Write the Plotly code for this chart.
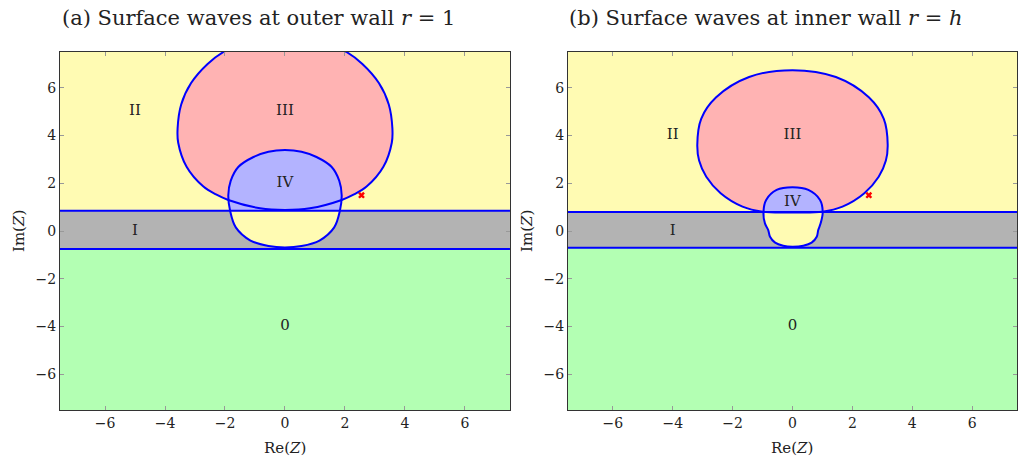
import plotly.graph_objects as go
from plotly.subplots import make_subplots

# ── axes ────────────────────────────────────────────────────────
AX = [-7.5, 7.5]
TICKS = [-6, -4, -2, 0, 2, 4, 6]

# ── panel (a): outer wall r = 1 ─────────────────────────────────
band_a = [-0.75, 0.85]
iii_a_x = [0, 0.83, 1.89, 2.3, 2.72, 3.28, 3.56, 3.58, 3.46, 3.13, 2.58, 2.05, 1.2, 0,
           -1.2, -2.05, -2.58, -3.13, -3.46, -3.58, -3.56, -3.28, -2.72, -2.3, -1.89, -0.83, 0]
iii_a_y = [0.88, 0.95, 1.30, 1.53, 1.86, 2.69, 3.7, 4.3, 5.3, 6.2, 7.0, 7.5, 7.97, 8.2,
           7.97, 7.5, 7.0, 6.2, 5.3, 4.3, 3.7, 2.69, 1.86, 1.53, 1.30, 0.95, 0.88]
iv_a_top_x = [-1.83, -1.89, -1.81, -1.55, -1.05, -0.55, 0, 0.55, 1.05, 1.55, 1.81, 1.89, 1.83]
iv_a_top_y = [0.85, 1.5, 2.1, 2.69, 3.1, 3.32, 3.39, 3.32, 3.1, 2.69, 2.1, 1.5, 0.85]
iv_a_bot_x = [1.83, 1.64, 1.15, 0.55, 0, -0.55, -1.15, -1.64, -1.83]
iv_a_bot_y = [0.85, 0.15, -0.40, -0.63, -0.69, -0.63, -0.40, 0.15, 0.85]
lab_a = ["II", "III", "IV", "I", "0"]
lab_a_x = [-5, 0, 0, -5, 0]
lab_a_y = [5, 5, 2, 0, -4]
cross_a_x, cross_a_y = [2.55], [1.5]

# ── panel (b): inner wall r = h ─────────────────────────────────
band_b = [-0.70, 0.80]
iii_b_x = [0, 1.0, 1.67, 2.4, 2.88, 3.12, 3.18, 3.05, 2.55, 1.45, 0,
           -1.45, -2.55, -3.05, -3.18, -3.12, -2.88, -2.4, -1.67, -1.0, 0]
iii_b_y = [0.78, 0.81, 1.02, 1.58, 2.27, 2.95, 3.62, 4.7, 5.6, 6.45, 6.74,
           6.45, 5.6, 4.7, 3.62, 2.95, 2.27, 1.58, 1.02, 0.81, 0.78]
iv_b_top_x = [-0.97, -0.88, -0.53, 0.0, 0.53, 0.92, 1.01]
iv_b_top_y = [0.80, 1.30, 1.72, 1.83, 1.72, 1.30, 0.80]
iv_b_bot_x = [1.01, 0.94, 0.86, 0.81, 0.64, 0.36, 0.0, -0.31, -0.58, -0.75, -0.81, -0.92, -0.97]
iv_b_bot_y = [0.80, 0.32, 0.04, -0.24, -0.49, -0.62, -0.66, -0.62, -0.49, -0.24, 0.04, 0.32, 0.80]
lab_b = ["II", "III", "IV", "I", "0"]
lab_b_x = [-4, 0, 0, -4, 0]
lab_b_y = [4, 4, 1.2, 0, -4]
cross_b_x, cross_b_y = [2.55], [1.5]

# ── colours (pgfplots xx!30 style) ──────────────────────────────
YEL, RED, BLU, GRY, GRN = "#FFFBB3", "#FFB3B3", "#B3B3FF", "#B3B3B3", "#B3FFB3"
LINE = "#0000FF"
FONT = "DejaVu Serif"
TXT = "#222"

fig = make_subplots(rows=1, cols=2)
sp = dict(shape="spline", smoothing=1.0)


def fill(x, y, color, col):
    fig.add_trace(go.Scatter(x=x, y=y, mode="lines", fill="toself", fillcolor=color,
                             line=dict(width=0, **sp), hoverinfo="skip"), 1, col)


def outline(x, y, col):
    fig.add_trace(go.Scatter(x=x, y=y, mode="lines", hoverinfo="skip",
                             line=dict(color=LINE, width=2, **sp)), 1, col)


def add_panel(col, band, iii_x, iii_y, tx, ty, bx, by, labs, lx, ly, cx, cy):
    xr = "x" if col == 1 else "x2"
    yr = "y" if col == 1 else "y2"
    # green (region 0) and grey band (region I)
    fig.add_shape(type="rect", xref=xr + " domain", yref=yr, x0=0, x1=1,
                  y0=AX[0], y1=band[0], fillcolor=GRN, line_width=0, layer="below")
    fig.add_shape(type="rect", xref=xr + " domain", yref=yr, x0=0, x1=1,
                  y0=band[0], y1=band[1], fillcolor=GRY, line_width=0, layer="below")
    fill(iii_x, iii_y, RED, col)          # region III
    fill(tx, ty, BLU, col)                # region IV
    fill(bx, by, YEL, col)                # pocket inside the band
    outline(iii_x, iii_y, col)
    # IV outline as one loop, starting at the bottom
    k = len(bx) // 2
    ox = bx[k:] + tx[1:] + bx[1:k + 1]
    oy = by[k:] + ty[1:] + by[1:k + 1]
    outline(ox, oy, col)
    # band boundaries
    for yb in band:
        fig.add_shape(type="line", xref=xr + " domain", yref=yr, x0=0, x1=1, y0=yb, y1=yb,
                      line=dict(color=LINE, width=2), layer="above")
    fig.add_trace(go.Scatter(x=cx, y=cy, mode="markers", hoverinfo="skip",
                             marker=dict(symbol="x", size=6, color="#FF0000",
                                         line=dict(width=0))), 1, col)
    fig.add_trace(go.Scatter(x=lx, y=ly, text=labs, mode="text", hoverinfo="skip",
                             textfont=dict(family=FONT, size=15, color=TXT)), 1, col)


add_panel(1, band_a, iii_a_x, iii_a_y, iv_a_top_x, iv_a_top_y, iv_a_bot_x, iv_a_bot_y,
          lab_a, lab_a_x, lab_a_y, cross_a_x, cross_a_y)
add_panel(2, band_b, iii_b_x, iii_b_y, iv_b_top_x, iv_b_top_y, iv_b_bot_x, iv_b_bot_y,
          lab_b, lab_b_x, lab_b_y, cross_b_x, cross_b_y)

axis_style = dict(range=AX, tickvals=TICKS, ticks="inside", ticklen=4, tickcolor="#999",
                  showline=True, linecolor="#333", linewidth=1, mirror="allticks",
                  showgrid=False, zeroline=False,
                  tickfont=dict(family=FONT, size=14, color=TXT))
fig.update_xaxes(**axis_style)
fig.update_yaxes(**axis_style)
fig.update_layout(xaxis=dict(domain=[0, 0.4702]), xaxis2=dict(domain=[0.5308, 1]))

ann = dict(xref="paper", yref="paper", showarrow=False, xanchor="center", yanchor="middle",
           font=dict(family=FONT, color=TXT))
titles = ["(a) Surface waves at outer wall <i>r</i> = 1",
          "(b) Surface waves at inner wall <i>r</i> = <i>h</i>"]
for tx_, t in zip([0.2069, 0.7377], titles):
    fig.add_annotation(x=tx_, y=1.095, text=t, font_size=21, **ann)
for cx_ in [0.2351, 0.7654]:
    fig.add_annotation(x=cx_, y=-0.105, text="Re(<i>Z</i>)", font_size=15, **ann)
for cx_ in [-0.0428, 0.4880]:
    fig.add_annotation(x=cx_, y=0.5, text="Im(<i>Z</i>)", textangle=-90, font_size=15, **ann)

fig.update_layout(width=1018, height=458, showlegend=False,
                  plot_bgcolor=YEL, paper_bgcolor="white",
                  margin=dict(l=60, r=1, t=52, b=48))
fig.write_html("out.html", config={"displayModeBar": False},
               post_script="document.body.style.margin='0';")
